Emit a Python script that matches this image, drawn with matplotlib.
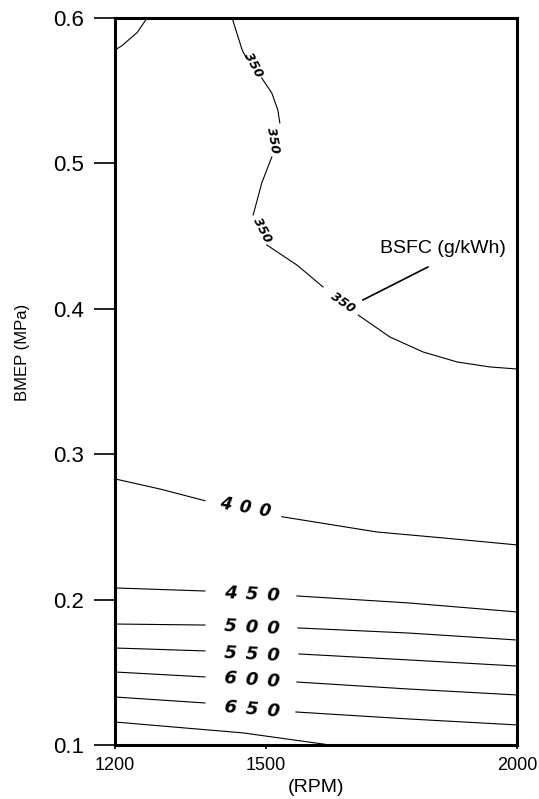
"""BSFC contour map: BMEP vs engine speed."""

import numpy as np
import matplotlib.pyplot as plt

plt.rcParams['font.family'] = ['Liberation Sans', 'DejaVu Sans']

# Contour traces (nan = gap left for the label)
nan = np.nan
c300_rpm = [1200, 1214, 1244, 1256, 1264]
c300_bmep = [0.578, 0.581, 0.590, 0.596, 0.600]

c350_rpm = [1433, 1453, 1462, nan, 1492, 1512, 1524, 1528, nan,
            1512, 1492, 1475, nan,
            1502, 1562, 1614, nan,
            1684, 1747, 1813, 1881, 1946, 2000]
c350_bmep = [0.600, 0.578, 0.572, nan, 0.5587, 0.5484, 0.5367, 0.5278, nan,
             0.5044, 0.4865, 0.4645, nan,
             0.4439, 0.4301, 0.4150, nan,
             0.3957, 0.3806, 0.3703, 0.3634, 0.3600, 0.3586]

c400_rpm = [1200, 1290, 1379, nan, 1532, 1721, 1853, 2000]
c400_bmep = [0.283, 0.276, 0.268, nan, 0.257, 0.2465, 0.2424, 0.2376]

c450_rpm = [1200, 1379, nan, 1562, 1784, 2000]
c450_bmep = [0.208, 0.2059, nan, 0.2025, 0.1977, 0.1915]

c500_rpm = [1200, 1379, nan, 1564, 1784, 2000]
c500_bmep = [0.1832, 0.1825, nan, 0.1805, 0.1770, 0.1722]

c550_rpm = [1200, 1379, nan, 1566, 1784, 2000]
c550_bmep = [0.1667, 0.1647, nan, 0.1626, 0.1585, 0.1543]

c600_rpm = [1200, 1379, nan, 1562, 1784, 2000]
c600_bmep = [0.1502, 0.1468, nan, 0.1433, 0.1385, 0.1344]

c650_rpm = [1200, 1379, nan, 1560, 1784, 2000]
c650_bmep = [0.1330, 0.1289, nan, 0.1227, 0.1179, 0.1138]

c700_rpm = [1200, 1455, 1628]
c700_bmep = [0.1158, 0.1083, 0.100]

# contour labels: text, rpm, bmep, rotation, size
lbl_text = ['350', '350', '350', '350', '400', '450', '500', '550', '600', '650']
lbl_rpm = [1475, 1514, 1492, 1654, 1459, 1472, 1472, 1472, 1472, 1472]
lbl_bmep = [0.568, 0.516, 0.454, 0.404, 0.263, 0.2035, 0.1805, 0.1625, 0.1445, 0.1245]
lbl_rot = [-62, -80, -63, -35, -10, -3, -3, -3, -4, -5]
lbl_size = [9, 9, 9, 9, 12, 13, 13, 13, 13, 13]

xticks = [1200, 1500, 2000]
yticks = [0.1, 0.2, 0.3, 0.4, 0.5, 0.6]

fig = plt.figure(figsize=(5.39, 7.99), dpi=100)
ax = fig.add_axes([0.2134, 0.0676, 0.7458, 0.9099])

for r, b in [(c300_rpm, c300_bmep), (c350_rpm, c350_bmep), (c400_rpm, c400_bmep),
             (c450_rpm, c450_bmep), (c500_rpm, c500_bmep), (c550_rpm, c550_bmep),
             (c600_rpm, c600_bmep), (c650_rpm, c650_bmep), (c700_rpm, c700_bmep)]:
    ax.plot(r, b, color='black', linewidth=0.8)

for t, r, b, rot, fs in zip(lbl_text, lbl_rpm, lbl_bmep, lbl_rot, lbl_size):
    if fs > 9:
        t = '\u2002'.join(t)   # spaced-out digits like the original
    ax.text(r, b, t, rotation=rot, ha='center', va='center',
            fontsize=fs, style='italic', fontweight='bold',
            family='DejaVu Sans', rotation_mode='anchor')

# BSFC label with its leader line
ax.text(1853, 0.4418, 'BSFC (g/kWh)', ha='center', va='center', fontsize=14)
ax.annotate('', xy=(1693, 0.406), xytext=(1823, 0.4288),
            arrowprops=dict(arrowstyle='-', color='black', linewidth=1.2,
                            shrinkA=0, shrinkB=0))

ax.set_xlim(1200, 2000)
ax.set_ylim(0.1, 0.6)
ax.set_xticks(xticks)
ax.set_yticks(yticks)
ax.set_yticklabels(['%.1f' % v for v in yticks], fontsize=16)
ax.set_xticklabels([str(v) for v in xticks], fontsize=13)
ax.tick_params(axis='y', direction='out', length=15, width=1.2, pad=7)
ax.tick_params(axis='x', direction='out', length=3, width=1.2, pad=6)
for s in ax.spines.values():
    s.set_linewidth(2.2)

ax.set_xlabel('(RPM)', fontsize=14, labelpad=3)
ax.set_ylabel('BMEP (MPa)', fontsize=12)
ax.yaxis.set_label_coords(-0.212, 0.54)

fig.savefig('out.png', dpi=100)
